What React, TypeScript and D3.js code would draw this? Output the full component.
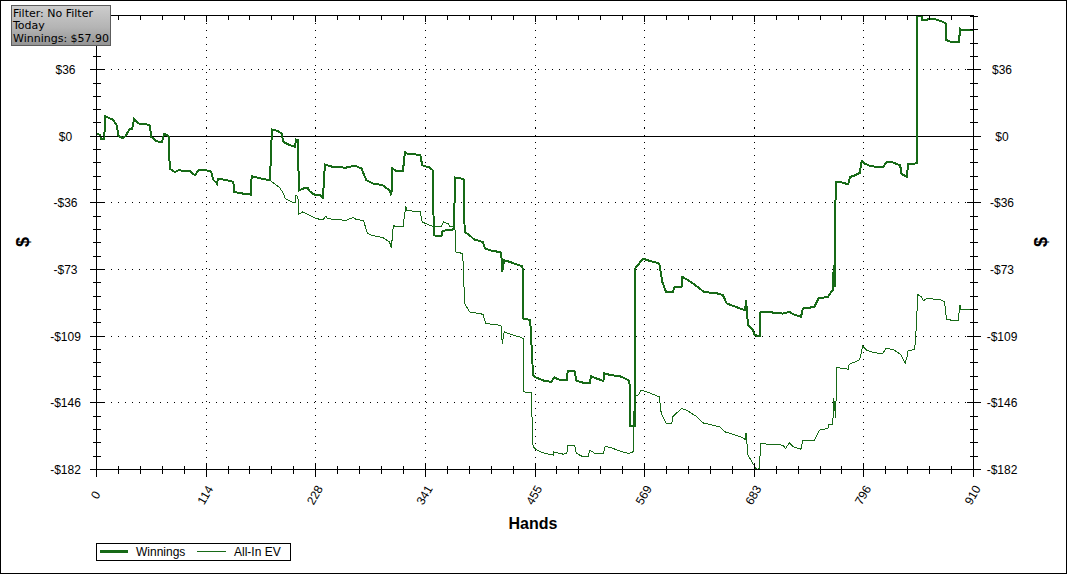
import React from "react";
import * as d3 from "d3";

// axis ticks
const xTickValues = [0, 113.75, 227.5, 341.25, 455, 568.75, 682.5, 796.25, 910];
const xTickLabels = ["0", "114", "228", "341", "455", "569", "683", "796", "910"];
const yTickValues = [36.4, 0, -36.4, -72.8, -109.2, -145.6, -182];
const yTickLabels = ["$36", "$0", "-$36", "-$73", "-$109", "-$146", "-$182"];
const yDomain = [-182, 66];
const xDomain = [0, 910];

const infoLines = ["Filter: No Filter", "Today", "Winnings: $57.90"];
const seriesNames = ["Winnings", "All-In EV"];

// [hand, dollars] — both series are identical until hand 180
const sharedStart: [number, number][] = [
  [0, 1.5], [4, 0.7], [5, -1.6], [8, -1.6], [9, 10.9], [17, 9.1], [21, 6.0], [23, 0], [27, -0.9],
  [30, 0], [34, 3.7], [37, 4.2], [39, 9.3], [42, 7.8], [45, 6.6], [55, 6.4], [57, -0.4], [62, -2.6],
  [68, -3.3], [70, 1.1], [73, 0.9], [75, -0.4], [76, -17.6], [81, -19.5], [85, -18.6], [97, -18.9],
  [102, -21.3], [106, -18.6], [112, -18.2], [119, -19.3], [121, -23.6], [125, -25.8], [126, -23.1],
  [135, -24.0], [142, -24.9], [143, -30.4], [152, -31.3], [160, -31.8], [161, -21.8], [171, -23.1],
  [180, -24.0],
];

const winningsRest: [number, number][] = [
  [182, 3.7], [188, 2.9], [192, 1.5], [194, -3.1], [201, -4.9], [206, -5.8], [207, -1.8], [209, -2.2],
  [210, -29.5], [214, -28.6], [219, -28.0], [221, -29.9], [225, -31.7], [232, -32.2], [235, -33.5],
  [237, -15.4], [246, -16.8], [259, -17.1], [268, -16.0], [275, -17.6], [280, -24.0], [287, -25.8],
  [297, -26.7], [304, -29.5], [306, -32.2], [307, -17.6], [311, -18.9], [318, -18.9], [320, -8.6],
  [322, -9.4], [330, -9.8], [336, -10.4], [338, -15.8], [346, -17.1], [349, -18.6], [350, -54.0],
  [354, -54.6], [358, -54.6], [359, -51.7], [363, -51.3], [368, -51.3], [371, -50.4], [372, -22.5],
  [379, -23.1], [381, -23.6], [382, -52.2], [387, -54.0], [392, -56.4], [401, -57.7], [403, -61.3],
  [408, -62.2], [418, -63.2], [420, -63.7], [421, -74.1], [423, -67.7], [429, -68.6], [436, -70.0],
  [442, -71.0], [443, -99.5], [450, -100.4], [453, -130.5], [456, -131.7], [465, -133.6], [472, -134.1],
  [475, -131.7], [479, -132.8], [488, -133.2], [489, -128.1], [496, -128.1], [498, -133.6], [508, -135.0],
  [512, -135.0], [513, -131.0], [519, -132.3], [526, -133.6], [527, -129.5], [534, -130.5], [543, -131.0],
  [552, -133.2], [553, -133.6], [554, -158.3], [559, -158.3], [559, -72.2], [563, -69.5], [567, -66.8],
  [572, -67.7], [584, -69.5], [587, -79.5], [591, -85.0], [598, -85.0], [600, -82.3], [607, -82.3],
  [608, -76.8], [614, -78.6], [619, -80.4], [626, -83.1], [630, -85.0], [645, -85.9], [650, -86.8],
  [654, -91.3], [668, -94.1], [673, -95.0], [674, -89.5], [676, -103.2], [681, -105.9], [683, -108.6],
  [688, -109.2], [689, -95.9], [695, -95.9], [712, -96.8], [719, -95.9], [723, -97.2], [726, -97.7],
  [731, -98.6], [733, -94.1], [745, -93.2], [749, -88.6], [759, -87.7], [761, -85.9], [764, -84.1],
  [765, -70.4], [766, -82.5], [767, -24.9], [771, -24.9], [780, -26.2], [782, -22.2], [787, -21.3],
  [792, -20.0], [794, -13.5], [797, -14.9], [804, -16.4], [816, -16.8], [820, -14.0], [825, -14.0],
  [834, -15.8], [835, -20.4], [841, -22.2], [842, -15.3], [849, -14.9], [851, -14.6], [851, 65.9],
  [856, 65.5], [857, 63.3], [861, 63.3], [863, 64.3], [868, 64.3], [879, 62.4], [881, 61.5], [881, 52.8],
  [887, 51.5], [895, 51.5], [896, 58.8], [898, 57.9], [910, 57.9],
];

const allInEvRest: [number, number][] = [
  [182, -24.9], [190, -28.0], [194, -31.3], [196, -34.0], [202, -35.8], [206, -36.3], [207, -32.2],
  [209, -33.1], [210, -42.6], [214, -41.3], [221, -43.2], [228, -45.0], [235, -45.5], [238, -43.7],
  [240, -45.0], [259, -45.9], [266, -44.4], [270, -45.5], [277, -45.9], [281, -52.8], [285, -54.0],
  [297, -55.3], [304, -57.7], [306, -60.8], [308, -48.6], [311, -49.5], [318, -49.5], [321, -38.2],
  [322, -40.4], [327, -40.8], [336, -41.3], [338, -46.8], [346, -48.6], [351, -49.5], [358, -49.1],
  [360, -46.8], [365, -47.7], [367, -49.5], [371, -49.1], [372, -51.3], [373, -63.2], [380, -64.0],
  [382, -91.3], [387, -95.9], [401, -97.2], [404, -102.2], [418, -103.2], [420, -103.7], [421, -113.2],
  [423, -106.8], [427, -107.7], [439, -109.6], [443, -110.4], [443, -139.6], [451, -140.1], [453, -169.6],
  [457, -171.4], [465, -173.2], [474, -174.1], [474, -172.3], [484, -173.6], [488, -173.2], [489, -168.7],
  [496, -168.7], [498, -173.2], [505, -175.1], [510, -175.1], [512, -171.4], [517, -173.2], [526, -173.2],
  [528, -169.2], [536, -170.5], [545, -172.3], [552, -173.2], [557, -172.3], [558, -142.3], [562, -141.4],
  [565, -138.7], [571, -139.6], [584, -142.3], [586, -151.4], [591, -156.8], [597, -156.8], [598, -153.2],
  [607, -148.6], [612, -149.5], [623, -153.2], [629, -156.5], [647, -158.7], [652, -161.4], [668, -164.1],
  [673, -165.5], [674, -162.0], [676, -174.1], [681, -178.7], [685, -182.0], [688, -181.4], [689, -167.8],
  [695, -168.1], [712, -168.7], [715, -170.5], [719, -167.4], [723, -169.6], [731, -170.9], [733, -166.0],
  [745, -166.0], [750, -160.5], [759, -159.6], [760, -157.2], [764, -157.2], [765, -143.2], [767, -154.1],
  [768, -126.3], [780, -127.2], [781, -124.5], [787, -123.2], [792, -121.9], [795, -114.6], [799, -116.8],
  [808, -118.3], [816, -118.6], [819, -115.9], [827, -116.4], [835, -119.5], [839, -124.1], [841, -120.5],
  [842, -117.2], [849, -116.4], [851, -101.4], [852, -86.3], [856, -87.7], [858, -89.9], [861, -88.6],
  [875, -89.1], [880, -90.5], [882, -100.1], [894, -100.8], [896, -92.3], [897, -94.6], [910, -94.6],
];

const winnings = [...sharedStart, ...winningsRest];
const allInEv = [...sharedStart, ...allInEvRest];

const W = 1068;
const H = 575;
const plot = { left: 96.5, right: 973.5, top: 15.5, bottom: 469.5 };
const lineColor = "#176a17";
const tickFont = "'Liberation Sans', Arial, sans-serif";

const snap = (v: number) => Math.floor(v) + 0.5;

export default function App() {
  const x = d3.scaleLinear().domain(xDomain).range([plot.left, plot.right]);
  const y = d3.scaleLinear().domain(yDomain).range([plot.bottom, plot.top]);

  const line = d3
    .line<[number, number]>()
    .x((d) => x(d[0]))
    .y((d) => y(d[1]));

  // minor ticks: 5 sub-intervals per major step
  const xStep = (xTickValues[1] - xTickValues[0]) / 5;
  const xMinor = d3.range(xDomain[0], xDomain[1] + 1e-6, xStep);
  const yStep = (yTickValues[0] - yTickValues[1]) / 5;
  const yMinor = d3.range(yDomain[0], yDomain[1] + 1e-6, yStep);
  const xMajorSet = xTickValues.map((v) => Math.round(v * 100));
  const yMajorSet = yTickValues.map((v) => Math.round(v * 100));

  return (
    <svg width={W} height={H} style={{ display: "block", background: "#fff" }}>
      <style>{"body{margin:0}"}</style>
      <defs>
        <clipPath id="plotClip">
          <rect x={plot.left} y={plot.top - 1} width={plot.right - plot.left} height={plot.bottom - plot.top + 2} />
        </clipPath>
        <linearGradient id="infoGrad" x1="0" y1="0" x2="0" y2="1">
          <stop offset="0%" stopColor="#cdcdcd" />
          <stop offset="55%" stopColor="#b4b4b4" />
          <stop offset="100%" stopColor="#939393" />
        </linearGradient>
      </defs>

      {/* outer frame */}
      <rect x={0.5} y={0.5} width={1066} height={573} fill="#fff" stroke="#000" />

      {/* grid lines */}
      <g stroke="#000" strokeDasharray="1 6" shapeRendering="crispEdges">
        {xTickValues.slice(1, -1).map((v, i) => (
          <line key={"gx" + i} x1={snap(x(v))} x2={snap(x(v))} y1={plot.top} y2={plot.bottom} />
        ))}
        {yTickValues
          .filter((v) => v !== 0 && v !== yDomain[0])
          .map((v, i) => (
            <line key={"gy" + i} x1={plot.left} x2={plot.right} y1={snap(y(v))} y2={snap(y(v))} />
          ))}
      </g>
      {/* zero line */}
      <line x1={plot.left} x2={plot.right} y1={snap(y(0))} y2={snap(y(0))} stroke="#000" shapeRendering="crispEdges" />

      {/* series */}
      <g clipPath="url(#plotClip)" fill="none" strokeLinejoin="miter" shapeRendering="crispEdges">
        <path d={line(allInEv) || ""} stroke={lineColor} strokeWidth={1} />
        <path d={line(winnings) || ""} stroke={lineColor} strokeWidth={2} />
      </g>

      {/* axes frame */}
      <g stroke="#000" shapeRendering="crispEdges">
        <line x1={plot.left} x2={plot.right} y1={plot.top} y2={plot.top} />
        <line x1={plot.left} x2={plot.right} y1={plot.bottom} y2={plot.bottom} />
        <line x1={plot.left} x2={plot.left} y1={plot.top} y2={plot.bottom} />
        <line x1={plot.right} x2={plot.right} y1={plot.top} y2={plot.bottom} />

        {xMinor.map((v, i) => {
          const major = xMajorSet.includes(Math.round(v * 100));
          const px = snap(x(v));
          const len = major ? 7 : 4;
          return (
            <g key={"xt" + i}>
              <line x1={px} x2={px} y1={plot.bottom - len} y2={plot.bottom + len} />
              <line x1={px} x2={px} y1={plot.top} y2={plot.top + (major ? 6 : 4)} />
            </g>
          );
        })}
        {yMinor.map((v, i) => {
          const major = yMajorSet.includes(Math.round(v * 100));
          const py = snap(y(v));
          const len = major ? 7 : 4;
          return (
            <g key={"yt" + i}>
              <line x1={plot.left - len} x2={plot.left + len} y1={py} y2={py} />
              <line x1={plot.right - len} x2={plot.right + len} y1={py} y2={py} />
            </g>
          );
        })}
      </g>

      {/* y tick labels, both sides */}
      <g fontFamily={tickFont} fontSize={12} fill="#000" textAnchor="middle">
        {yTickValues.map((v, i) => (
          <g key={"yl" + i}>
            <text x={65.5} y={y(v) + 4.3}>{yTickLabels[i]}</text>
            <text x={1002} y={y(v) + 4.3}>{yTickLabels[i]}</text>
          </g>
        ))}
      </g>

      {/* x tick labels, rotated */}
      <g fontFamily={tickFont} fontSize={12} fill="#000" textAnchor="middle">
        {xTickValues.map((v, i) => (
          <text key={"xl" + i} transform={`translate(${x(v) - 1},495) rotate(-60)`} dy="0.35em">
            {xTickLabels[i]}
          </text>
        ))}
      </g>

      {/* axis titles */}
      <g fontFamily={tickFont} fontWeight="bold" fill="#000" textAnchor="middle">
        <text x={533} y={529} fontSize={16}>Hands</text>
        <text transform="translate(29,242) rotate(-90)" fontSize={18}>$</text>
        <text transform="translate(1047,242) rotate(-90)" fontSize={18}>$</text>
      </g>

      {/* legend */}
      <g fontFamily={tickFont} fontSize={12}>
        <rect x={96.5} y={543.5} width={194} height={17} fill="#fff" stroke="#000" shapeRendering="crispEdges" />
        <line x1={100} x2={128} y1={551.5} y2={551.5} stroke={lineColor} strokeWidth={3} />
        <text x={136} y={556}>{seriesNames[0]}</text>
        <line x1={197} x2={226} y1={551.5} y2={551.5} stroke={lineColor} strokeWidth={1} />
        <text x={234} y={556}>{seriesNames[1]}</text>
      </g>

      {/* info box */}
      <g>
        <rect x={11.5} y={5.5} width={99} height={40} fill="url(#infoGrad)" stroke="#5c5c5c" shapeRendering="crispEdges" />
        {infoLines.map((t, i) => (
          <text key={"il" + i} x={13} y={16.8 + i * 12.6} fontFamily="'DejaVu Sans', Verdana, sans-serif" fontSize={11} fill="#000">
            {t}
          </text>
        ))}
      </g>
    </svg>
  );
}
